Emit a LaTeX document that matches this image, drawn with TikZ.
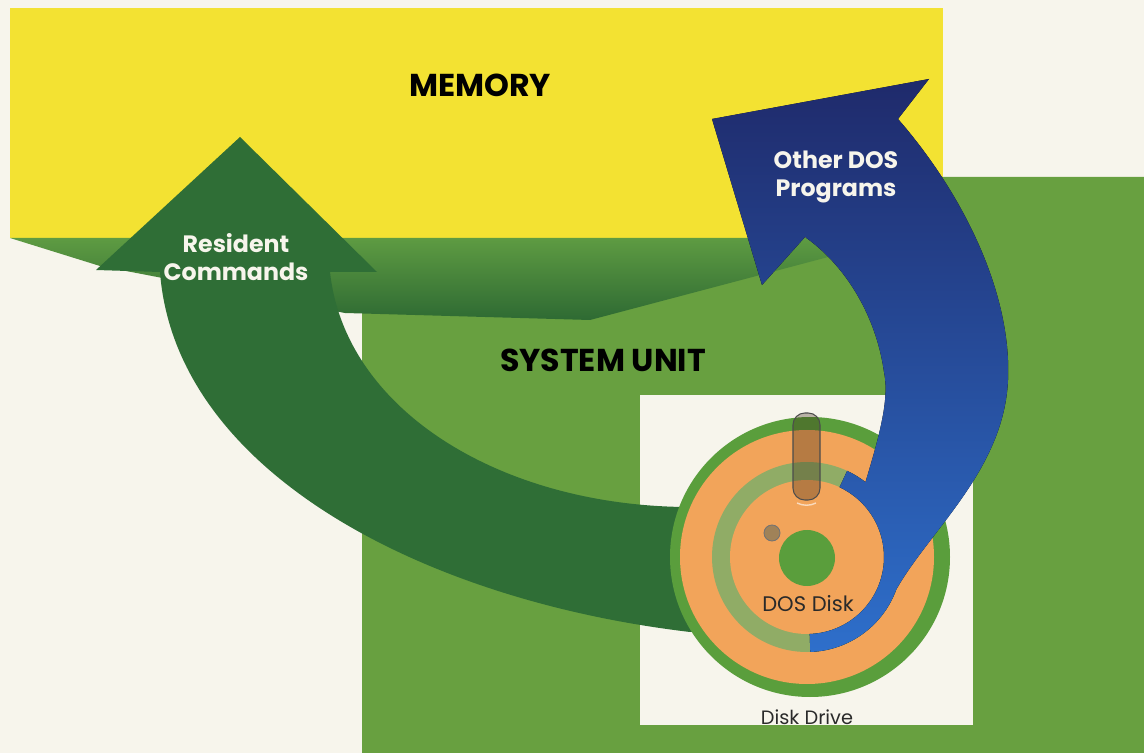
\documentclass[tikz,border=0pt]{standalone}
\usepackage{fontspec}
\setsansfont{Poppins}
\usetikzlibrary{calc}
\definecolor{paper}{HTML}{F7F5EC}
\definecolor{memyellow}{HTML}{F3E232}
\definecolor{sysgreen}{HTML}{68A040}
\definecolor{shelflight}{HTML}{5E9B42}
\definecolor{shelfdark}{HTML}{2E6A33}
\definecolor{resgreen}{HTML}{2F6E36}
\definecolor{navy}{HTML}{1F2A6B}
\definecolor{bluemid}{HTML}{233F95}
\definecolor{brightblue}{HTML}{2E6FCB}
\definecolor{diskorange}{HTML}{F2A45A}
\definecolor{sage}{HTML}{90AC66}
\definecolor{ringgreen}{HTML}{5A9E3C}
\definecolor{holebrown}{HTML}{A08258}
\definecolor{inkgray}{HTML}{2A2A2A}

\begin{document}
\begin{tikzpicture}[
    x=0.02cm, y=-0.02cm,
    title/.style={font=\sffamily\bfseries\fontsize{18}{20}\selectfont, text=black, inner sep=0pt},
    flowlabel/.style={font=\sffamily\bfseries\fontsize{13.5}{16}\selectfont, text=paper,
                      align=center, inner sep=0pt},
    disklabel/.style={font=\sffamily\fontsize{12}{14}\selectfont, text=inkgray, inner sep=0pt},
    resflow/.style={fill=resgreen},
    dosflow/.style={top color=navy, middle color=bluemid, bottom color=brightblue},
]
\useasboundingbox (0,0) rectangle (1144,753);
\fill[paper] (0,0) rectangle (1144,753);

% Memory block and system unit behind it
\fill[memyellow] (10,8) rectangle (943,238);
\fill[sysgreen] (362,753) -- (362,300) -- (600,300) -- (900,220) -- (900,177)
  -- (1144,177) -- (1144,753) -- cycle;
% shadow shelf under the memory block
\shade[top color=shelflight, bottom color=shelfdark]
  (10,238) -- (900,238) -- (590,320) -- (345,313) -- (100,266) -- cycle;

% Disk drive slot
\fill[paper] (640,395) rectangle (973,725);

% Resident commands arrow
\fill[resflow] (240,137) -- (377,272) -- (330,272)
  .. controls (345,410) and (500,505) .. (685,507)
  -- (760,520) -- (760,630) -- (690,632)
  .. controls (420,600) and (175,470) .. (160,272)
  -- (96,270) -- cycle;

% The disk
\coordinate (disk) at (807,557);
\fill[ringgreen] (810,557) circle[radius=140];
\fill[diskorange] (disk) circle[radius=127];
\fill[sage] (disk) circle[radius=95];
\fill[diskorange] (disk) circle[radius=77];
\fill[ringgreen] (807,558) circle[radius=28];
\filldraw[fill=holebrown, draw=black!55, line width=0.5pt] (772,533) circle[radius=8];
\draw[white, line width=0.8pt, opacity=0.6] (797,503) .. controls (803,506) and (810,506) .. (816,503);
\filldraw[fill=black!70!brown, fill opacity=0.32, draw=black!70, line width=0.6pt,
          rounded corners=6.7pt] (793,413) rectangle (820,500);

% Other DOS programs arrow
\fill[dosflow] (712,119) -- (929,79) -- (898,119)
  .. controls (960,190) and (1012,290) .. (1008,380)
  .. controls (1004,470) and (930,530) .. ($(disk)+(20:95)$)
  arc[start angle=20, end angle=88, radius=95]
  -- ($(disk)+(88:77)$)
  arc[start angle=88, end angle=-65, radius=77]
  -- ($(disk)+(-65:95)$)
  arc[start angle=-65, end angle=-52, radius=95]
  .. controls (878,440) and (890,400) .. (884,372)
  .. controls (876,315) and (845,265) .. (805,237)
  -- (762,285) -- cycle;

% Labels
\node[title] (memory) at (480,85) {MEMORY};
\node[title] (sysunit) at (603,360) {SYSTEM UNIT};
\node[flowlabel] (resident) at (236,257) {Resident\\Commands};
\node[flowlabel] (otherdos) at (836,177) {Other DOS\\Programs};
\node[disklabel] (dosdisk) at (808,604) {DOS Disk};
\node[disklabel, font=\sffamily\fontsize{11}{13}\selectfont] (drive) at (807,717) {Disk Drive};
\end{tikzpicture}
\end{document}
